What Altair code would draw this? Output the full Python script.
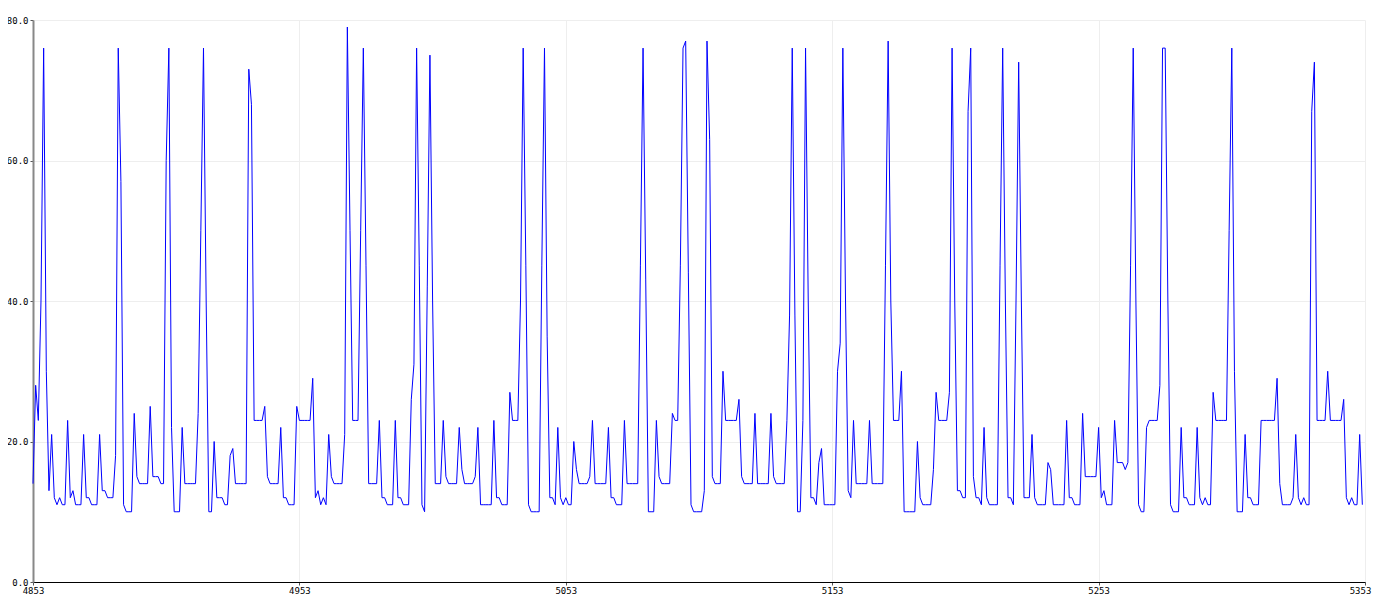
import altair as alt
import pandas as pd

x_start = 4853
x_ticks = [4853, 4953, 5053, 5153, 5253, 5353]
y_ticks = [0, 20, 40, 60, 80]

values = [
    14, 28, 23, 40, 76, 30, 13, 21, 12, 11,
    12, 11, 11, 23, 12, 13, 11, 11, 11, 21,
    12, 12, 11, 11, 11, 21, 13, 13, 12, 12,
    12, 18, 76, 57, 11, 10, 10, 10, 24, 15,
    14, 14, 14, 14, 25, 15, 15, 15, 14, 14,
    60, 76, 22, 10, 10, 10, 22, 14, 14, 14,
    14, 14, 24, 50, 76, 40, 10, 10, 20, 12,
    12, 12, 11, 11, 18, 19, 14, 14, 14, 14,
    14, 73, 68, 23, 23, 23, 23, 25, 15, 14,
    14, 14, 14, 22, 12, 12, 11, 11, 11, 25,
    23, 23, 23, 23, 23, 29, 12, 13, 11, 12,
    11, 21, 15, 14, 14, 14, 14, 21, 79, 50,
    23, 23, 23, 50, 76, 45, 14, 14, 14, 14,
    23, 12, 12, 11, 11, 11, 23, 12, 12, 11,
    11, 11, 26, 31, 76, 45, 11, 10, 42, 75,
    40, 14, 14, 14, 23, 15, 14, 14, 14, 14,
    22, 16, 14, 14, 14, 14, 15, 22, 11, 11,
    11, 11, 11, 23, 12, 12, 11, 11, 11, 27,
    23, 23, 23, 40, 76, 45, 11, 10, 10, 10,
    10, 45, 76, 35, 12, 12, 11, 22, 12, 11,
    12, 11, 11, 20, 16, 14, 14, 14, 14, 15,
    23, 14, 14, 14, 14, 14, 22, 12, 12, 11,
    11, 11, 23, 14, 14, 14, 14, 14, 45, 76,
    43, 10, 10, 10, 23, 15, 14, 14, 14, 14,
    24, 23, 23, 45, 76, 77, 44, 11, 10, 10,
    10, 10, 13, 77, 63, 15, 14, 14, 14, 30,
    23, 23, 23, 23, 23, 26, 15, 14, 14, 14,
    14, 24, 14, 14, 14, 14, 14, 24, 15, 14,
    14, 14, 14, 23, 38, 76, 38, 10, 10, 23,
    76, 40, 12, 12, 11, 17, 19, 11, 11, 11,
    11, 11, 30, 34, 76, 40, 13, 12, 23, 14,
    14, 14, 14, 14, 23, 14, 14, 14, 14, 14,
    45, 77, 40, 23, 23, 23, 30, 10, 10, 10,
    10, 10, 20, 12, 11, 11, 11, 11, 16, 27,
    23, 23, 23, 23, 27, 76, 40, 13, 13, 12,
    12, 67, 76, 15, 12, 12, 11, 22, 12, 11,
    11, 11, 11, 45, 76, 40, 12, 12, 11, 40,
    74, 40, 12, 12, 12, 21, 12, 11, 11, 11,
    11, 17, 16, 11, 11, 11, 11, 11, 23, 12,
    12, 11, 11, 11, 24, 15, 15, 15, 15, 15,
    22, 12, 13, 11, 11, 11, 23, 17, 17, 17,
    16, 17, 45, 76, 40, 11, 10, 10, 22, 23,
    23, 23, 23, 28, 76, 76, 40, 11, 10, 10,
    10, 22, 12, 12, 11, 11, 11, 22, 12, 11,
    12, 11, 11, 27, 23, 23, 23, 23, 23, 50,
    76, 30, 10, 10, 10, 21, 12, 12, 11, 11,
    11, 23, 23, 23, 23, 23, 23, 29, 14, 11,
    11, 11, 11, 12, 21, 12, 11, 12, 11, 11,
    67, 74, 23, 23, 23, 23, 30, 23, 23, 23,
    23, 23, 26, 12, 11, 12, 11, 11, 21, 11,
]

xs = [x_start + i for i in range(len(values))]
df = pd.DataFrame({"x": xs, "v": values})

font = "DejaVu Sans Mono"

chart = alt.Chart(df).mark_line(color="#0000ff", strokeWidth=1).encode(
    x=alt.X(
        "x:Q",
        scale=alt.Scale(domain=[x_ticks[0], x_ticks[-1]], nice=False, zero=False),
        axis=alt.Axis(
            values=x_ticks, format="d", title=None,
            domainColor="#000000", domainWidth=1,
            tickColor="#555555", tickSize=3,
            labelPadding=1, labelFlush=False,
            labelOffset={"condition": {"test": f"datum.value == {x_ticks[-1]}", "value": -5}, "value": 0},
            gridColor="#eeeeee", gridWidth=1,
        ),
    ),
    y=alt.Y(
        "v:Q",
        scale=alt.Scale(domain=[0, 80], nice=False),
        axis=alt.Axis(
            values=y_ticks, format=".1f", title=None,
            domainColor="#888888", domainWidth=2,
            tickColor="#555555", tickSize=3,
            labelPadding=2,
            gridColor="#eeeeee", gridWidth=1,
        ),
    ),
).properties(
    width=1332,
    height=562,
    autosize=alt.AutoSizeParams(type="none"),
    padding={"left": 25, "top": 12, "right": 7, "bottom": 16},
).configure_axis(
    labelFont=font,
    labelFontSize=9,
    labelColor="#000000",
).configure_view(
    stroke=None,
)

chart.save("out.html", embed_options={"renderer": "svg", "actions": False})
